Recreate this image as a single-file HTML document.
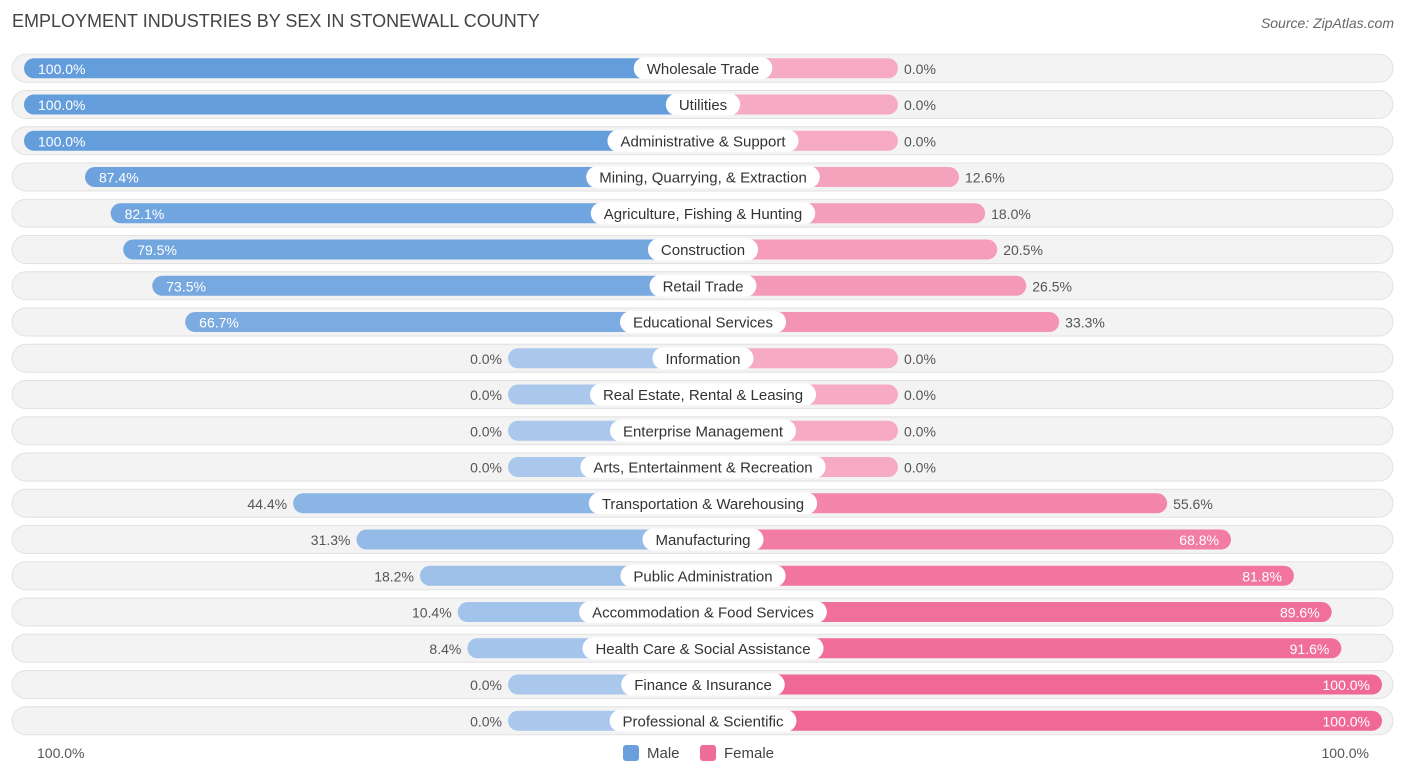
<!DOCTYPE html>
<html><head><meta charset="utf-8"><style>
body{margin:0;width:1406px;height:776px;background:#fff;font-family:"Liberation Sans",sans-serif;overflow:hidden;position:relative}
.t{position:absolute;white-space:nowrap}
</style></head><body>
<div class="t" style="left:12px;top:11px;font-size:18px;color:#444">EMPLOYMENT INDUSTRIES BY SEX IN STONEWALL COUNTY</div>
<div class="t" style="right:12px;top:15px;font-size:14px;color:#666;font-style:italic">Source: ZipAtlas.com</div>
<svg id="c" width="1406" height="776" style="position:absolute;left:0;top:0"></svg>
<div class="t" style="left:37px;top:745px;font-size:14px;color:#555">100.0%</div>
<div class="t" style="right:37px;top:745px;font-size:14px;color:#555">100.0%</div>
<div class="t" style="left:623px;top:745px;font-size:15px;color:#444"><span style="display:inline-block;width:16px;height:16px;background:#6a9fdc;border-radius:3px;vertical-align:-3px;margin-right:8px"></span>Male</div>
<div class="t" style="left:700px;top:745px;font-size:15px;color:#444"><span style="display:inline-block;width:16px;height:16px;background:#f06d98;border-radius:3px;vertical-align:-3px;margin-right:8px"></span>Female</div>
<script>
const categories=["Wholesale Trade","Utilities","Administrative & Support","Mining, Quarrying, & Extraction","Agriculture, Fishing & Hunting","Construction","Retail Trade","Educational Services","Information","Real Estate, Rental & Leasing","Enterprise Management","Arts, Entertainment & Recreation","Transportation & Warehousing","Manufacturing","Public Administration","Accommodation & Food Services","Health Care & Social Assistance","Finance & Insurance","Professional & Scientific"];
const maleValues=[100,100,100,87.4,82.1,79.5,73.5,66.7,0,0,0,0,44.4,31.3,18.2,10.4,8.4,0,0];
const femaleValues=[0,0,0,12.6,18.0,20.5,26.5,33.3,0,0,0,0,55.6,68.8,81.8,89.6,91.6,100,100];
const svg=document.getElementById('c');const NS='http://www.w3.org/2000/svg';
const cx=703,y0=68.3,dy=36.25,mx0=508,fx0=898,k=4.84;
function mX(v){return mx0-v*k}function fX(v){return fx0+v*k}
function mix(a,b,t){return 'rgb('+a.map((x,i)=>Math.round(x+(b[i]-x)*t)).join(',')+')'}
function mk(tag,attrs){const e=document.createElementNS(NS,tag);for(const a in attrs)e.setAttribute(a,attrs[a]);svg.appendChild(e);return e}
categories.forEach((c,i)=>{
 const y=y0+i*dy;const m=maleValues[i],f=femaleValues[i];
 const bg=mk('rect',{x:12,y:y-14,width:1381,height:28,rx:14,fill:'#f3f3f3',stroke:'#e2e2e2'});
 
 
 const mb=mk('rect',{x:mX(m),y:y-10,width:cx-mX(m)+10,height:20,rx:10,fill:mix([170,200,236],[100,157,220],m/100)});
 
 
 const fb=mk('rect',{x:cx-10,y:y-10,width:fX(f)-cx+10,height:20,rx:10,fill:mix([246,170,195],[240,105,150],f/100)});
 
 
 const lt=mk('text',{x:cx,y:y+5.5,'text-anchor':'middle','font-size':15,fill:'#333','font-family':'Liberation Sans'});lt.textContent=c;
 
 
 const w=lt.getComputedTextLength()+26;
 const p=mk('rect',{x:cx-w/2,y:y-11,width:w,height:22,rx:11,fill:'#fff'});
 
 
 svg.insertBefore(p,lt);
 const mt=mk('text',{y:y+5.5,'font-size':14,'font-family':'Liberation Sans'});
 
 
 if(m>60){mt.setAttribute('x',mX(m)+14);mt.setAttribute('fill','#fff')}else{mt.setAttribute('x',mX(m)-6);mt.setAttribute('text-anchor','end');mt.setAttribute('fill','#555')}
 mt.textContent=m.toFixed(1)+'%';
 const ft=mk('text',{y:y+5.5,'font-size':14,'font-family':'Liberation Sans'});
 
 
 if(f>60){ft.setAttribute('x',fX(f)-12);ft.setAttribute('text-anchor','end');ft.setAttribute('fill','#fff')}else{ft.setAttribute('x',fX(f)+6);ft.setAttribute('fill','#555')}
 ft.textContent=f.toFixed(1)+'%';
});
</script>
</body></html>
